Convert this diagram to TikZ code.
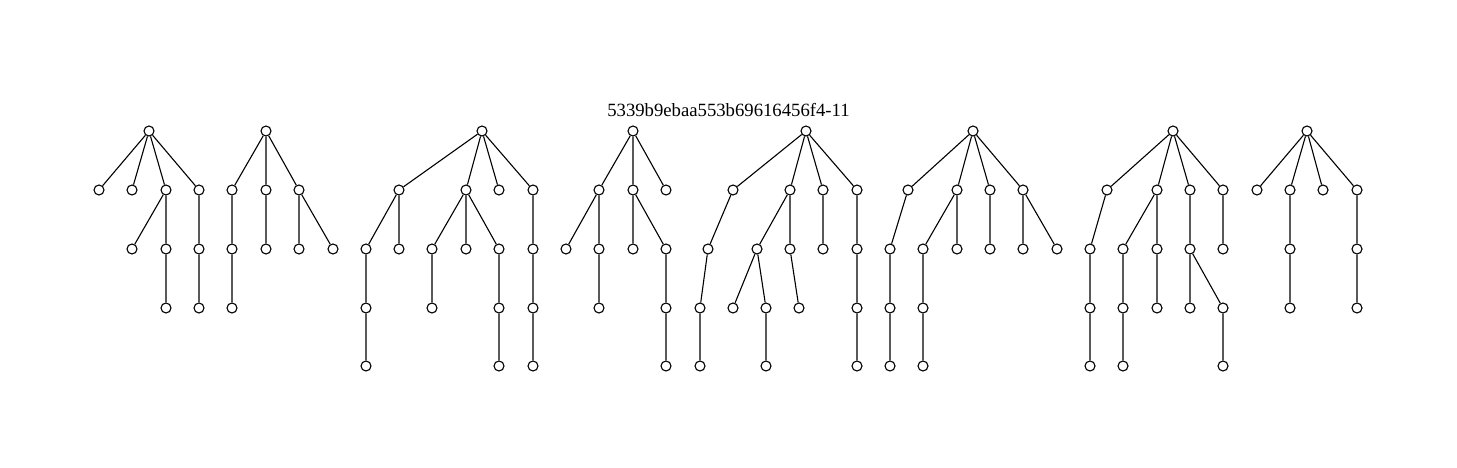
\documentclass[tikz,border=0pt]{standalone}
\usepackage{fontspec}
\setmainfont{Liberation Serif}
\begin{document}
\begin{tikzpicture}[x=1pt,y=-1pt,
  vtx/.style={circle,draw=black,fill=white,line width=1.1pt,inner sep=0pt,minimum size=10pt},
  edge/.style={draw=black,line width=1.1pt}]
\useasboundingbox (0,0) rectangle (1457,468);
\node[anchor=base,font=\fontsize{18.7}{20}\selectfont] (title) at (728.5,117) {5339b9ebaa553b69616456f4-11};
% Tree 1
\node[vtx] (a0) at (149,131) {};
\node[vtx] (a1) at (99,190) {};
\node[vtx] (a2) at (132,190) {};
\node[vtx] (a3) at (166,190) {};
\node[vtx] (a4) at (199,190) {};
\node[vtx] (a5) at (132,249) {};
\node[vtx] (a6) at (166,249) {};
\node[vtx] (a7) at (166,308) {};
\node[vtx] (a8) at (199,249) {};
\node[vtx] (a9) at (199,308) {};
\draw[edge] (a0)--(a1) (a0)--(a2) (a0)--(a3) (a0)--(a4) (a3)--(a5) (a3)--(a6) (a6)--(a7) (a4)--(a8) (a8)--(a9);
% Tree 2
\node[vtx] (b0) at (266,131) {};
\node[vtx] (b1) at (232,190) {};
\node[vtx] (b2) at (266,190) {};
\node[vtx] (b3) at (299,190) {};
\node[vtx] (b4) at (232,249) {};
\node[vtx] (b5) at (232,308) {};
\node[vtx] (b6) at (266,249) {};
\node[vtx] (b7) at (299,249) {};
\node[vtx] (b8) at (333,249) {};
\draw[edge] (b0)--(b1) (b0)--(b2) (b0)--(b3) (b1)--(b4) (b4)--(b5) (b2)--(b6) (b3)--(b7) (b3)--(b8);
% Tree 3
\node[vtx] (c0) at (482,131) {};
\node[vtx] (c1) at (399,190) {};
\node[vtx] (c2) at (466,190) {};
\node[vtx] (c3) at (499,190) {};
\node[vtx] (c4) at (533,190) {};
\node[vtx] (c5) at (366,249) {};
\node[vtx] (c6) at (399,249) {};
\node[vtx] (c7) at (366,308) {};
\node[vtx] (c8) at (366,366) {};
\node[vtx] (c9) at (432,249) {};
\node[vtx] (c10) at (466,249) {};
\node[vtx] (c11) at (499,249) {};
\node[vtx] (c12) at (432,308) {};
\node[vtx] (c13) at (499,308) {};
\node[vtx] (c14) at (499,366) {};
\node[vtx] (c15) at (533,249) {};
\node[vtx] (c16) at (533,308) {};
\node[vtx] (c17) at (533,366) {};
\draw[edge] (c0)--(c1) (c0)--(c2) (c0)--(c3) (c0)--(c4) (c1)--(c5) (c1)--(c6) (c5)--(c7) (c7)--(c8)
  (c2)--(c9) (c2)--(c10) (c2)--(c11) (c9)--(c12) (c11)--(c13) (c13)--(c14) (c4)--(c15) (c15)--(c16) (c16)--(c17);
% Tree 4
\node[vtx] (d0) at (633,131) {};
\node[vtx] (d1) at (599,190) {};
\node[vtx] (d2) at (633,190) {};
\node[vtx] (d3) at (666,190) {};
\node[vtx] (d4) at (566,249) {};
\node[vtx] (d5) at (599,249) {};
\node[vtx] (d6) at (599,308) {};
\node[vtx] (d7) at (633,249) {};
\node[vtx] (d8) at (666,249) {};
\node[vtx] (d9) at (666,308) {};
\node[vtx] (d10) at (666,366) {};
\draw[edge] (d0)--(d1) (d0)--(d2) (d0)--(d3) (d1)--(d4) (d1)--(d5) (d5)--(d6) (d2)--(d7) (d2)--(d8) (d8)--(d9) (d9)--(d10);
% Tree 5
\node[vtx] (e0) at (806,131) {};
\node[vtx] (e1) at (733,190) {};
\node[vtx] (e2) at (790,190) {};
\node[vtx] (e3) at (823,190) {};
\node[vtx] (e4) at (857,190) {};
\node[vtx] (e5) at (708,249) {};
\node[vtx] (e6) at (700,308) {};
\node[vtx] (e7) at (700,366) {};
\node[vtx] (e8) at (757,249) {};
\node[vtx] (e9) at (790,249) {};
\node[vtx] (e10) at (733,308) {};
\node[vtx] (e11) at (766,308) {};
\node[vtx] (e12) at (766,366) {};
\node[vtx] (e13) at (799,308) {};
\node[vtx] (e14) at (823,249) {};
\node[vtx] (e15) at (857,249) {};
\node[vtx] (e16) at (857,308) {};
\node[vtx] (e17) at (857,366) {};
\draw[edge] (e0)--(e1) (e0)--(e2) (e0)--(e3) (e0)--(e4) (e1)--(e5) (e5)--(e6) (e6)--(e7)
  (e2)--(e8) (e2)--(e9) (e8)--(e10) (e8)--(e11) (e11)--(e12) (e9)--(e13) (e3)--(e14)
  (e4)--(e15) (e15)--(e16) (e16)--(e17);
% Tree 6
\node[vtx] (f0) at (973,131) {};
\node[vtx] (f1) at (908,190) {};
\node[vtx] (f2) at (957,190) {};
\node[vtx] (f3) at (990,190) {};
\node[vtx] (f4) at (1023,190) {};
\node[vtx] (f5) at (890,249) {};
\node[vtx] (f6) at (890,308) {};
\node[vtx] (f7) at (890,366) {};
\node[vtx] (f8) at (923,249) {};
\node[vtx] (f9) at (957,249) {};
\node[vtx] (f10) at (923,308) {};
\node[vtx] (f11) at (923,366) {};
\node[vtx] (f12) at (990,249) {};
\node[vtx] (f13) at (1023,249) {};
\node[vtx] (f14) at (1057,249) {};
\draw[edge] (f0)--(f1) (f0)--(f2) (f0)--(f3) (f0)--(f4) (f1)--(f5) (f5)--(f6) (f6)--(f7)
  (f2)--(f8) (f2)--(f9) (f8)--(f10) (f10)--(f11) (f3)--(f12) (f4)--(f13) (f4)--(f14);
% Tree 7
\node[vtx] (g0) at (1173,131) {};
\node[vtx] (g1) at (1107,190) {};
\node[vtx] (g2) at (1157,190) {};
\node[vtx] (g3) at (1190,190) {};
\node[vtx] (g4) at (1223,190) {};
\node[vtx] (g5) at (1090,249) {};
\node[vtx] (g6) at (1090,308) {};
\node[vtx] (g7) at (1090,366) {};
\node[vtx] (g8) at (1123,249) {};
\node[vtx] (g9) at (1157,249) {};
\node[vtx] (g10) at (1123,308) {};
\node[vtx] (g11) at (1123,366) {};
\node[vtx] (g12) at (1157,308) {};
\node[vtx] (g13) at (1190,249) {};
\node[vtx] (g14) at (1190,308) {};
\node[vtx] (g15) at (1223,308) {};
\node[vtx] (g16) at (1223,366) {};
\node[vtx] (g17) at (1223,249) {};
\draw[edge] (g0)--(g1) (g0)--(g2) (g0)--(g3) (g0)--(g4) (g1)--(g5) (g5)--(g6) (g6)--(g7)
  (g2)--(g8) (g2)--(g9) (g8)--(g10) (g10)--(g11) (g9)--(g12) (g3)--(g13) (g13)--(g14) (g13)--(g15)
  (g15)--(g16) (g4)--(g17);
% Tree 8
\node[vtx] (h0) at (1307,131) {};
\node[vtx] (h1) at (1257,190) {};
\node[vtx] (h2) at (1290,190) {};
\node[vtx] (h3) at (1323,190) {};
\node[vtx] (h4) at (1357,190) {};
\node[vtx] (h5) at (1290,249) {};
\node[vtx] (h6) at (1290,308) {};
\node[vtx] (h7) at (1357,249) {};
\node[vtx] (h8) at (1357,308) {};
\draw[edge] (h0)--(h1) (h0)--(h2) (h0)--(h3) (h0)--(h4) (h2)--(h5) (h5)--(h6) (h4)--(h7) (h7)--(h8);
\end{tikzpicture}
\end{document}
